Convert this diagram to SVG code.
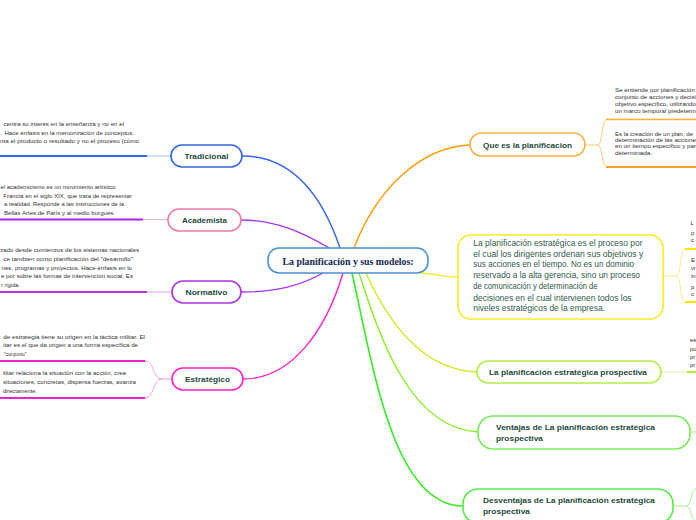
<svg xmlns="http://www.w3.org/2000/svg" width="696" height="520" viewBox="0 0 696 520">
<style>
.node{fill:#fff;stroke-width:1.6}
.lbl{font-family:"Liberation Sans",Arial,sans-serif;font-weight:bold;font-size:8px;fill:#1d4a3b}
.sm{font-family:"Liberation Sans",Arial,sans-serif;font-size:6px;fill:#333}
.yt{font-family:"Liberation Sans",Arial,sans-serif;font-size:8.6px;fill:#2f5a4b}
.c{fill:none}
</style>
<rect width="696" height="520" fill="#fff"/>
<g id="connectors">
<path class="c" d="M340,248 C322,195 292,156 242,156" stroke="#3366ee" stroke-width="1.4"/>
<path class="c" d="M331,249 C302,232 276,220 241,220" stroke="#aa33ee" stroke-width="1.4"/>
<path class="c" d="M323,273 C300,286 276,292 241,292" stroke="#aa33ee" stroke-width="1.4"/>
<path class="c" d="M343,273 C326,330 292,379 243,379" stroke="#ff22cc" stroke-width="1.4"/>
<path class="c" d="M354,248 C376,190 420,147 470,145" stroke="#ff9900" stroke-width="1.4"/>
<path class="c" d="M420,273 C435,274 445,277 458,277" stroke="#f5ee22" stroke-width="1.4"/>
<path class="c" d="M366,273 C388,322 422,370 477,372" stroke="#c8ee22" stroke-width="1.4"/>
<path class="c" d="M359,273 C382,345 412,428 478,432" stroke="#88ee22" stroke-width="1.4"/>
<path class="c" d="M352,273 C372,360 392,506 463,506" stroke="#33ee22" stroke-width="1.6"/>
<line x1="0" y1="156" x2="147" y2="156" stroke="#3366ee" stroke-width="2"/>
<line x1="147" y1="156" x2="171" y2="156" stroke="#a8c0ff" stroke-width="1"/>
<line x1="0" y1="219.5" x2="143" y2="219.5" stroke="#b022ee" stroke-width="2"/>
<line x1="143" y1="219.5" x2="168" y2="219.5" stroke="#e9b0f0" stroke-width="1"/>
<line x1="0" y1="292" x2="147" y2="292" stroke="#c030ee" stroke-width="2"/>
<line x1="147" y1="292" x2="172" y2="292" stroke="#dca8f5" stroke-width="1"/>
<line x1="0" y1="361" x2="145" y2="361" stroke="#ee22cc" stroke-width="2"/>
<line x1="0" y1="398" x2="145" y2="398" stroke="#ee22cc" stroke-width="2"/>
<path class="c" d="M145,361 C155,361 152,379 162,379 L172,379 M145,398 C155,398 152,379 162,379" stroke="#f8a0e8" stroke-width="1"/>
<path class="c" d="M585,145 L597,145 C604,145 600,119 608,119 M597,145 C604,145 600,167 608,167" stroke="#ffc870" stroke-width="1"/>
<line x1="606" y1="119.5" x2="696" y2="119.5" stroke="#ffb030" stroke-width="1.6"/>
<line x1="606" y1="167" x2="696" y2="167" stroke="#ffa020" stroke-width="2"/>
<path class="c" d="M663,276 L675,276 C683,276 678,249 686,249 M675,276 C683,276 678,302 686,302" stroke="#f5ec80" stroke-width="1"/>
<line x1="685" y1="249" x2="696" y2="249" stroke="#f5e400" stroke-width="2"/>
<line x1="685" y1="302" x2="696" y2="302" stroke="#f5e400" stroke-width="2"/>
<line x1="661" y1="372" x2="687" y2="372" stroke="#d8f5a0" stroke-width="1"/>
<line x1="687" y1="372" x2="696" y2="372" stroke="#b0ee30" stroke-width="2"/>
<line x1="690" y1="432" x2="696" y2="432" stroke="#a8f098" stroke-width="1"/>
<path class="c" d="M673,506 L686,506 C692,506 690,490 697,488 M686,506 C692,506 690,520 697,522" stroke="#a8f098" stroke-width="1"/>
</g>
<g id="center">
<rect x="268" y="248" width="160" height="25" rx="11" fill="#fbfdff" stroke="#4a90cf" stroke-width="1.6"/>
<text x="348" y="264.5" text-anchor="middle" font-family="'Liberation Serif',serif" font-weight="bold" font-size="11" fill="#142850" textLength="131" lengthAdjust="spacingAndGlyphs">La planificación y sus modelos:</text>
</g>
<g id="tradicional">
<rect class="node" x="171" y="145" width="71" height="22" rx="11" stroke="#3366ee"/>
<text class="lbl" x="206.5" y="159" text-anchor="middle" textLength="44" lengthAdjust="spacingAndGlyphs">Tradicional</text>
<text class="sm" x="3.5" y="125.5" textLength="120.5" lengthAdjust="spacingAndGlyphs">centra su interés en la enseñanza y no en el</text>
<text class="sm" x="1" y="134.5" textLength="133" lengthAdjust="spacingAndGlyphs">. Hace énfasis en la memorización de conceptos.</text>
<text class="sm" x="0" y="143" textLength="139" lengthAdjust="spacingAndGlyphs">nta el producto o resultado y no el proceso (cómo</text>
</g>
<g id="academista">
<rect class="node" x="168" y="209" width="73" height="22" rx="11" stroke="#f07aa0"/>
<text class="lbl" x="204.5" y="223" text-anchor="middle" textLength="45" lengthAdjust="spacingAndGlyphs">Academista</text>
<text class="sm" x="0.5" y="189" textLength="115" lengthAdjust="spacingAndGlyphs">el academicismo es un movimiento artístico</text>
<text class="sm" x="3.3" y="198" textLength="128.7" lengthAdjust="spacingAndGlyphs">Francia en el siglo XIX, que trata de representar</text>
<text class="sm" x="4" y="206.3" textLength="120" lengthAdjust="spacingAndGlyphs">a realidad. Responde a las instrucciones de la</text>
<text class="sm" x="4" y="214.6" textLength="111" lengthAdjust="spacingAndGlyphs">Bellas Artes de París y al medio burgués.</text>
</g>
<g id="normativo">
<rect class="node" x="172" y="281" width="69" height="22" rx="11" stroke="#aa33ee"/>
<text class="lbl" x="206.5" y="295" text-anchor="middle" textLength="42" lengthAdjust="spacingAndGlyphs">Normativo</text>
<text class="sm" x="0" y="252.3" textLength="139" lengthAdjust="spacingAndGlyphs">zado desde comienzos de los sistemas nacionales</text>
<text class="sm" x="3.3" y="260.6" textLength="129.7" lengthAdjust="spacingAndGlyphs">ce también como planificación del "desarrollo"</text>
<text class="sm" x="1.5" y="269.6" textLength="130.5" lengthAdjust="spacingAndGlyphs">nes, programas y proyectos. Hace énfasis en lo</text>
<text class="sm" x="1" y="278.3" textLength="132" lengthAdjust="spacingAndGlyphs">e por sobre las formas de intervención social. Es</text>
<text class="sm" x="1" y="286.6" textLength="19" lengthAdjust="spacingAndGlyphs">r rígida.</text>
</g>
<g id="estrategico">
<rect class="node" x="172" y="368" width="71" height="22" rx="11" stroke="#ff22cc"/>
<text class="lbl" x="207.5" y="382" text-anchor="middle" textLength="45" lengthAdjust="spacingAndGlyphs">Estratégico</text>
<text class="sm" x="3.3" y="339" textLength="141.7" lengthAdjust="spacingAndGlyphs">de estrategia tiene su origen en la táctica militar. El</text>
<text class="sm" x="3.3" y="346.6" textLength="134.7" lengthAdjust="spacingAndGlyphs">itar es el que da origen a una forma específica de</text>
<text class="sm" x="4" y="355.6" textLength="24" lengthAdjust="spacingAndGlyphs">"conjunto".</text>
<text class="sm" x="3" y="375" textLength="123" lengthAdjust="spacingAndGlyphs">ilitar relaciona la situación con la acción, crea</text>
<text class="sm" x="3" y="384" textLength="133" lengthAdjust="spacingAndGlyphs">situaciones, concretas, dispersa fuerzas, avanza</text>
<text class="sm" x="3" y="393" textLength="34" lengthAdjust="spacingAndGlyphs">directamente.</text>
</g>
<g id="que-es">
<rect class="node" x="470" y="133" width="115" height="23" rx="11.5" stroke="#f9b040"/>
<text class="lbl" x="527.5" y="147.5" text-anchor="middle" textLength="89" lengthAdjust="spacingAndGlyphs">Que es la planificacion</text>
<text class="sm" x="615" y="92.2" textLength="80" lengthAdjust="spacingAndGlyphs">Se entiende por planificación</text>
<text class="sm" x="615" y="99" textLength="81" lengthAdjust="spacingAndGlyphs">conjunto de acciones y decisi</text>
<text class="sm" x="615" y="106" textLength="81" lengthAdjust="spacingAndGlyphs">objetivo específico, utilizando</text>
<text class="sm" x="615" y="112.7" textLength="81" lengthAdjust="spacingAndGlyphs">un marco temporal predeterm</text>
<text class="sm" x="615" y="135.7" textLength="78" lengthAdjust="spacingAndGlyphs">Es la creación de un plan, de</text>
<text class="sm" x="615" y="142" textLength="81" lengthAdjust="spacingAndGlyphs">determinación de las accione</text>
<text class="sm" x="615" y="148.4" textLength="81" lengthAdjust="spacingAndGlyphs">en un tiempo específico y par</text>
<text class="sm" x="615" y="155.4" textLength="37" lengthAdjust="spacingAndGlyphs">determinada.</text>
</g>
<g id="estrategica">
<rect class="node" x="458" y="235" width="205" height="84" rx="13" stroke="#f8ec20"/>
<text class="yt" x="473.3" y="245.8" textLength="169.3" lengthAdjust="spacingAndGlyphs">La planificación estratégica es el proceso por</text>
<text class="yt" x="473.3" y="256.5" textLength="170" lengthAdjust="spacingAndGlyphs">el cual los dirigentes ordenan sus objetivos y</text>
<text class="yt" x="473.3" y="267.2" textLength="160.7" lengthAdjust="spacingAndGlyphs">sus acciones en el tiempo. No es un dominio</text>
<text class="yt" x="473.3" y="278" textLength="166.7" lengthAdjust="spacingAndGlyphs">reservado a la alta gerencia, sino un proceso</text>
<text class="yt" x="473.3" y="289" textLength="124.3" lengthAdjust="spacingAndGlyphs">de comunicación y determinación de</text>
<text class="yt" x="473.3" y="300.5" textLength="158.3" lengthAdjust="spacingAndGlyphs">decisiones en el cual intervienen todos los</text>
<text class="yt" x="473.3" y="311.3" textLength="131.7" lengthAdjust="spacingAndGlyphs">niveles estratégicos de la empresa.</text>
<text class="sm" x="690.5" y="225">L</text>
<text class="sm" x="691" y="235">p</text>
<text class="sm" x="691" y="242">c</text>
<text class="sm" x="691" y="262">E</text>
<text class="sm" x="691" y="269.5">vi</text>
<text class="sm" x="691" y="277.5">in</text>
<text class="sm" x="691" y="289">p</text>
<text class="sm" x="691" y="296">c</text>
</g>
<g id="prospectiva">
<rect class="node" x="477" y="361" width="184" height="22" rx="11" stroke="#b4f040"/>
<text class="lbl" x="568" y="375" text-anchor="middle" textLength="158" lengthAdjust="spacingAndGlyphs">La planificación estratégica prospectiva</text>
<text class="sm" x="690" y="342">es</text>
<text class="sm" x="690" y="351">po</text>
<text class="sm" x="690" y="358.7">pr</text>
<text class="sm" x="690" y="367">pr</text>
</g>
<g id="ventajas">
<rect class="node" x="478" y="416" width="212" height="33" rx="15" stroke="#77ee55"/>
<text class="lbl" x="496" y="430.3" textLength="159" lengthAdjust="spacingAndGlyphs">Ventajas de La planificación estratégica</text>
<text class="lbl" x="496" y="441.3" textLength="47" lengthAdjust="spacingAndGlyphs">prospectiva</text>
</g>
<g id="desventajas">
<rect class="node" x="463" y="489" width="210" height="34" rx="15" stroke="#55ee44"/>
<text class="lbl" x="483" y="503" textLength="172" lengthAdjust="spacingAndGlyphs">Desventajas de La planificación estratégica</text>
<text class="lbl" x="483" y="514" textLength="47" lengthAdjust="spacingAndGlyphs">prospectiva</text>
</g>
</svg>
